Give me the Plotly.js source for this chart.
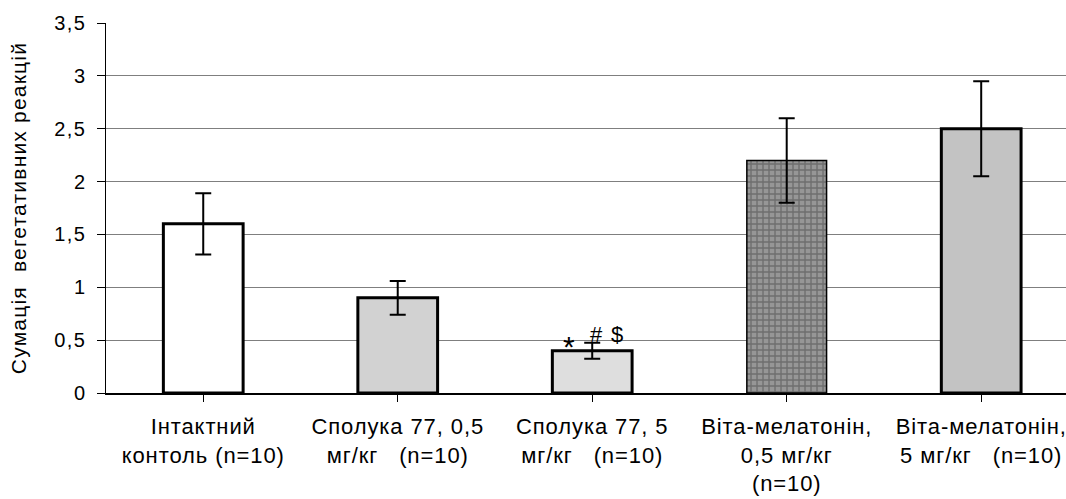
<!DOCTYPE html>
<html><head><meta charset="utf-8">
<script src="https://cdn.plot.ly/plotly-3.0.1.min.js"></script>
<style>
body{margin:0;overflow:hidden;background:#fff}
.xtick text{letter-spacing:0.9px}
.ytick text{letter-spacing:1.5px}
.ytitle{letter-spacing:1.2px}
</style>
</head><body>
<div id="chart" style="width:1066px;height:499px"></div>
<script>
const categories = [
  "Інтактний<br>контоль (n=10)",
  "Сполука 77, 0,5<br>мг/кг\u00a0\u00a0 (n=10)",
  "Сполука 77, 5<br>мг/кг\u00a0\u00a0 (n=10)",
  "Віта-мелатонін,<br>0,5 мг/кг<br>(n=10)",
  "Віта-мелатонін,<br>5 мг/кг\u00a0\u00a0 (n=10)"
];
const values = [1.6, 0.9, 0.4, 2.2, 2.5];
const errors = [0.29, 0.16, 0.075, 0.4, 0.45];
const yTicks = [0, 0.5, 1, 1.5, 2, 2.5, 3, 3.5];
const yTickLabels = ["0", "0,5", "1", "1,5", "2", "2,5", "3", "3,5"];
const marks = ["*", "#", "$"];

const fontFam = "Liberation Sans, Arial, sans-serif";
const idx = categories.map((c, i) => i);

const trace = {
  type: "bar",
  x: idx,
  y: values,
  width: 0.41,
  marker: {
    color: ["#ffffff", "#d2d2d2", "#dedede", "#969696", "#c3c3c3"],
    line: {color: "#000", width: [3, 3, 3, 1.5, 3]},
    pattern: {
      shape: ["", "", "", "+", ""],
      fgcolor: "#383838",
      fillmode: "overlay",
      size: 6,
      solidity: 0.4
    }
  },
  error_y: {type: "data", array: errors, visible: true, color: "#000", thickness: 2, width: 8},
  hoverinfo: "none"
};

const annShift = [-23, 4, 25];
const annY = [-14, 2, 2];
const annSize = [30, 22, 22];
const annotations = marks.map((m, i) => ({
  x: 2, y: values[2], xref: "x", yref: "y",
  text: m, showarrow: false,
  xshift: annShift[i], yshift: annY[i],
  yanchor: "bottom",
  font: {family: fontFam, size: annSize[i], color: "#000"}
}));

const layout = {
  width: 1066, height: 499,
  margin: {l: 106, r: 0, t: 23, b: 106},
  paper_bgcolor: "#fff", plot_bgcolor: "#fff",
  showlegend: false,
  annotations: annotations,
  xaxis: {
    range: [-0.5, 4.436],
    tickvals: idx, ticktext: categories,
    tickson: "boundaries",
    ticks: "outside", ticklen: 7, tickcolor: "#000", tickwidth: 1,
    showline: true, linecolor: "#000", linewidth: 1.5,
    showgrid: false, zeroline: false,
    tickangle: 0,
    ticklabeloverflow: "allow",
    ticklabelstandoff: 6,
    tickfont: {family: fontFam, size: 22, color: "#000"}
  },
  yaxis: {
    range: [0, 3.5],
    tickvals: yTicks, ticktext: yTickLabels,
    ticks: "outside", ticklen: 8, tickcolor: "#000", tickwidth: 1,
    showline: true, linecolor: "#000", linewidth: 1.5,
    showgrid: true, gridcolor: "#7f7f7f", gridwidth: 1,
    zeroline: false,
    ticklabelstandoff: 6,
    tickfont: {family: fontFam, size: 20, color: "#000"},
    title: {text: "Сумація\u00a0 вегетативних реакцій", font: {family: fontFam, size: 21, color: "#000"}, standoff: 22}
  }
};

Plotly.newPlot("chart", [trace], layout, {displayModeBar: false, staticPlot: true});
</script>
</body></html>
